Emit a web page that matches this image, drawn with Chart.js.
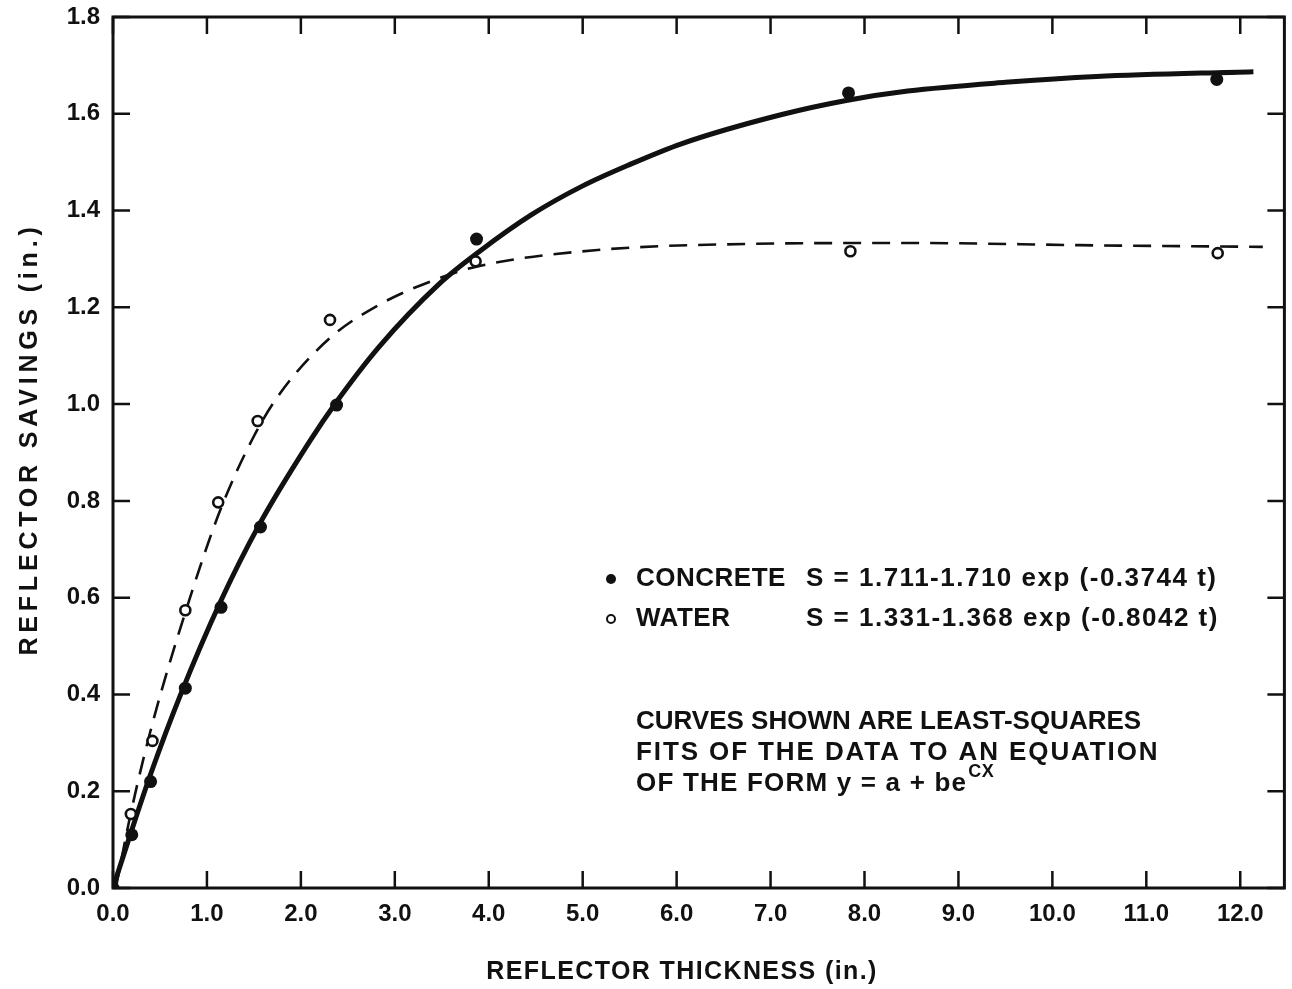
<!DOCTYPE html>
<html>
<head>
<meta charset="utf-8">
<title>Reflector savings vs thickness</title>
<script src="https://cdn.jsdelivr.net/npm/chart.js@4.4.0/dist/chart.umd.min.js"></script>
<style>
  html, body { margin: 0; padding: 0; background: #fff; }
  #wrap { width: 1292px; height: 989px; position: relative; }
</style>
</head>
<body>
<div id="wrap"><canvas id="chart"></canvas></div>
<script>
// measured points (in.)
const concreteT = [0, 0.2, 0.4, 0.77, 1.15, 1.57, 2.38, 3.87, 7.83, 11.75];
const concreteS = [0, 0.11, 0.22, 0.413, 0.58, 0.746, 0.998, 1.341, 1.643, 1.671];
const waterT = [0.19, 0.42, 0.77, 1.12, 1.54, 2.31, 3.86, 7.85, 11.76];
const waterS = [0.153, 0.304, 0.574, 0.797, 0.965, 1.174, 1.295, 1.316, 1.312];

// fitted curves
const concreteFitT = [0, 0.2, 0.4, 0.71, 1.14, 1.56, 2.09, 2.38, 2.83, 3.47, 3.89, 4.46, 4.99, 5.5, 6.05, 7.11, 7.82, 8.46, 9.5, 10.47, 12.14];
const concreteFitS = [0, 0.12, 0.235, 0.395, 0.59, 0.752, 0.922, 1.005, 1.118, 1.248, 1.314, 1.392, 1.45, 1.495, 1.538, 1.598, 1.628, 1.647, 1.665, 1.677, 1.687];
const waterFitT = [0.03, 0.19, 0.42, 0.82, 1.14, 1.49, 1.77, 2.3, 2.83, 3.4, 3.89, 5.13, 6.76, 8.46, 10.5, 12.24];
const waterFitS = [0, 0.155, 0.34, 0.6, 0.78, 0.93, 1.02, 1.135, 1.205, 1.255, 1.285, 1.318, 1.331, 1.333, 1.328, 1.325];

const xTicks = [0, 1, 2, 3, 4, 5, 6, 7, 8, 9, 10, 11, 12];
const yTicks = [0, 0.2, 0.4, 0.6, 0.8, 1.0, 1.2, 1.4, 1.6, 1.8];

const xTitle = 'REFLECTOR THICKNESS (in.)';
const yTitle = 'REFLECTOR SAVINGS (in.)';
const legendRows = [
  { name: 'CONCRETE', eq: 'S = 1.711-1.710 exp (-0.3744 t)', filled: true },
  { name: 'WATER', eq: 'S = 1.331-1.368 exp (-0.8042 t)', filled: false },
];
const noteLines = [
  'CURVES SHOWN ARE LEAST-SQUARES',
  'FITS OF THE DATA TO AN EQUATION',
  'OF THE FORM y = a + be',
];

const INK = '#111';
const FONT = '"Liberation Sans", Arial, sans-serif';

const pairs = (xs, ys) => xs.map((x, i) => ({ x, y: ys[i] }));

// inward ticks on all four sides + frame
const frameTicks = {
  id: 'frameTicks',
  afterDatasetsDraw(chart) {
    const { ctx, chartArea: a, scales: { x, y } } = chart;
    const len = 17;
    ctx.save();
    ctx.strokeStyle = INK;
    ctx.lineWidth = 3;
    ctx.strokeRect(a.left, a.top, a.right - a.left, a.bottom - a.top);
    ctx.lineWidth = 2.5;
    ctx.beginPath();
    xTicks.forEach((v) => {
      const px = x.getPixelForValue(v);
      ctx.moveTo(px, a.bottom);
      ctx.lineTo(px, a.bottom - len);
      ctx.moveTo(px, a.top);
      ctx.lineTo(px, a.top + len);
    });
    yTicks.forEach((v) => {
      const py = y.getPixelForValue(v);
      ctx.moveTo(a.left, py);
      ctx.lineTo(a.left + len, py);
      ctx.moveTo(a.right, py);
      ctx.lineTo(a.right - len, py);
    });
    ctx.stroke();
    ctx.restore();
  },
};

// axis titles, legend with fit equations and the note
const notes = {
  id: 'notes',
  afterDraw(chart) {
    const { ctx } = chart;
    ctx.save();
    ctx.fillStyle = INK;
    ctx.strokeStyle = INK;
    ctx.textBaseline = 'middle';

    ctx.font = `bold 25px ${FONT}`;
    ctx.textAlign = 'center';
    ctx.letterSpacing = '1.4px';
    ctx.fillText(xTitle, 682, 972);
    ctx.save();
    ctx.translate(30, 439);
    ctx.rotate(-Math.PI / 2);
    ctx.letterSpacing = '4.8px';
    ctx.fillText(yTitle, 0, 0);
    ctx.restore();

    ctx.textAlign = 'left';
    ctx.font = `bold 26px ${FONT}`;
    legendRows.forEach((row, i) => {
      const cy = 579 + i * 40;
      ctx.beginPath();
      if (row.filled) {
        ctx.arc(611, cy, 5, 0, Math.PI * 2);
        ctx.fill();
      } else {
        ctx.lineWidth = 2;
        ctx.arc(611, cy, 4, 0, Math.PI * 2);
        ctx.stroke();
      }
      ctx.letterSpacing = '0.5px';
      ctx.fillText(row.name, 636, cy);
      ctx.letterSpacing = '1.5px';
      ctx.fillText(row.eq, 806, cy);
    });
    const spacing = ['0px', '1.9px', '1.2px'];
    noteLines.forEach((line, i) => {
      ctx.letterSpacing = spacing[i];
      ctx.fillText(line, 636, 722 + i * 31);
    });
    const w = ctx.measureText(noteLines[2]).width;
    ctx.letterSpacing = '0.5px';
    ctx.font = `bold 18px ${FONT}`;
    ctx.fillText('CX', 636 + w + 1, 772);
    ctx.restore();
  },
};

new Chart(document.getElementById('chart'), {
  type: 'scatter',
  data: {
    datasets: [
      {
        label: 'Concrete',
        data: pairs(concreteT, concreteS),
        pointRadius: 6.5,
        pointBackgroundColor: INK,
        pointBorderWidth: 0,
        order: 0,
      },
      {
        label: 'Water',
        data: pairs(waterT, waterS),
        pointRadius: 5,
        pointBackgroundColor: '#fff',
        pointBorderColor: INK,
        pointBorderWidth: 2.6,
        order: 0,
      },
      {
        label: 'Concrete fit',
        data: pairs(concreteFitT, concreteFitS),
        showLine: true,
        pointRadius: 0,
        borderColor: INK,
        borderWidth: 5,
        cubicInterpolationMode: 'monotone',
        order: 1,
      },
      {
        label: 'Water fit',
        data: pairs(waterFitT, waterFitS),
        showLine: true,
        pointRadius: 0,
        borderColor: INK,
        borderWidth: 2.6,
        borderDash: [18, 11],
        cubicInterpolationMode: 'monotone',
        order: 1,
      },
    ],
  },
  options: {
    responsive: true,
    maintainAspectRatio: false,
    animation: false,
    events: [],
    layout: { padding: { top: 17, right: 4, left: 0, bottom: 0 } },
    plugins: {
      legend: { display: false },
      tooltip: { enabled: false },
    },
    scales: {
      x: {
        type: 'linear',
        min: 0,
        max: 12.47,
        afterBuildTicks: (s) => { s.ticks = xTicks.map((v) => ({ value: v })); },
        afterFit: (s) => { s.height = 101; s.paddingLeft = 0; s.paddingRight = 0; },
        grid: { display: false, drawTicks: false },
        border: { display: false },
        ticks: {
          padding: 12,
          color: INK,
          font: { family: FONT, size: 24, weight: 'bold' },
          callback: (v) => Number(v).toFixed(1),
          maxRotation: 0,
        },
      },
      y: {
        type: 'linear',
        min: 0,
        max: 1.8,
        afterBuildTicks: (s) => { s.ticks = yTicks.map((v) => ({ value: v })); },
        afterFit: (s) => { s.width = 113; s.paddingTop = 0; s.paddingBottom = 0; },
        grid: { display: false, drawTicks: false },
        border: { display: false },
        ticks: {
          padding: 13,
          color: INK,
          font: { family: FONT, size: 24, weight: 'bold' },
          callback: (v) => Number(v).toFixed(1),
        },
      },
    },
  },
  plugins: [frameTicks, notes],
});
</script>
</body>
</html>
